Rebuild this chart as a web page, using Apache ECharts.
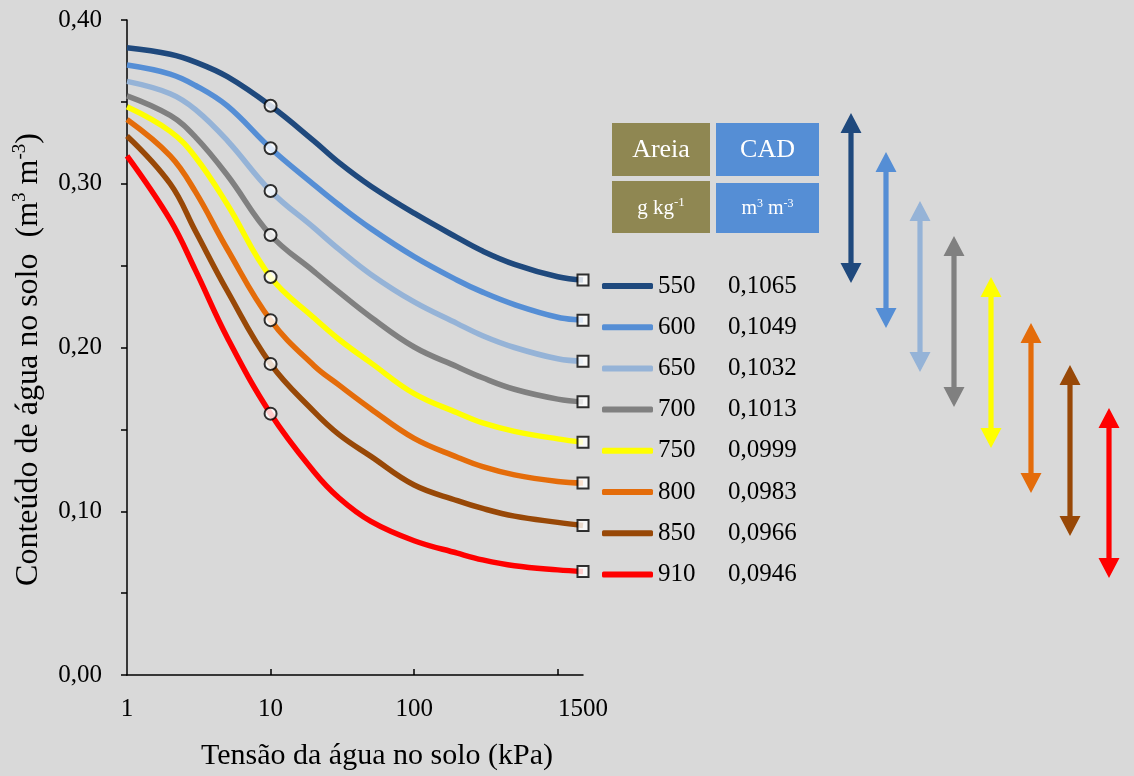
<!DOCTYPE html>
<html>
<head>
<meta charset="utf-8">
<script src="https://cdn.jsdelivr.net/npm/echarts@6/dist/echarts.min.js"></script>
<style>html,body{margin:0;padding:0;background:#d9d9d9}#c{width:1134px;height:776px}</style>
</head>
<body>
<div id="c"></div>
<script>
// ---- data ----
const tensao = [1, 2, 3, 5, 10, 20, 30, 50, 100, 200, 300, 500, 1000, 1500];
const areia = ['550', '600', '650', '700', '750', '800', '850', '910'];
const cad = ['0,1065', '0,1049', '0,1032', '0,1013', '0,0999', '0,0983', '0,0966', '0,0946'];
const theta550 = [0.3830, 0.3791, 0.3743, 0.3654, 0.3476, 0.3262, 0.3129, 0.2985, 0.2820, 0.2671, 0.2589, 0.2508, 0.2432, 0.2412];
const theta600 = [0.3725, 0.3670, 0.3600, 0.3475, 0.3217, 0.2995, 0.2870, 0.2726, 0.2555, 0.2411, 0.2338, 0.2262, 0.2185, 0.2167];
const theta650 = [0.3625, 0.3550, 0.3453, 0.3264, 0.2956, 0.2732, 0.2599, 0.2446, 0.2278, 0.2146, 0.2072, 0.2000, 0.1931, 0.1916];
const theta700 = [0.3537, 0.3417, 0.3285, 0.3052, 0.2687, 0.2465, 0.2338, 0.2185, 0.2003, 0.1882, 0.1815, 0.1745, 0.1685, 0.1668];
const theta750 = [0.3470, 0.3320, 0.3162, 0.2873, 0.2430, 0.2182, 0.2049, 0.1906, 0.1718, 0.1601, 0.1539, 0.1488, 0.1442, 0.1421];
const theta800 = [0.3392, 0.3170, 0.2950, 0.2600, 0.2167, 0.1890, 0.1770, 0.1625, 0.1445, 0.1330, 0.1272, 0.1222, 0.1182, 0.1172];
const theta850 = [0.3292, 0.3000, 0.2710, 0.2345, 0.1900, 0.1610, 0.1468, 0.1335, 0.1160, 0.1065, 0.1017, 0.0970, 0.0932, 0.0913];
const theta910 = [0.3170, 0.2779, 0.2471, 0.2060, 0.1596, 0.1243, 0.1081, 0.0938, 0.0820, 0.0744, 0.0703, 0.0667, 0.0642, 0.0632];
const xTickLabels = [1, 10, 100, 1500];
const yTickValues = [0, 0.1, 0.2, 0.3, 0.4];

// ---- styling ----
const curves = [theta550, theta600, theta650, theta700, theta750, theta800, theta850, theta910];
const colors = ['#1f497d', '#558ed5', '#95b3d7', '#808080', '#ffff00', '#e46c0a', '#984807', '#ff0000'];
const FONT = 'Liberation Serif';
const markAt = [10, 1500];

const chart = echarts.init(document.getElementById('c'), null, {renderer: 'canvas'});

const series = [];
curves.forEach((vals, i) => {
  series.push({
    name: areia[i], type: 'line', smooth: 0.4, showSymbol: false,
    symbol: 'none', color: colors[i],
    lineStyle: {width: 5.5, color: colors[i]},
    data: tensao.map((t, k) => [t, vals[k]]), z: 2
  });
});
series.push({
  name: 'pts10', type: 'scatter', symbol: 'circle', symbolSize: 12, z: 5,
  itemStyle: {color: '#ffffff', borderColor: '#000000', borderWidth: 2},
  data: curves.map(v => [markAt[0], v[tensao.indexOf(markAt[0])]])
});
series.push({
  name: 'pts1500', type: 'scatter', symbol: 'rect', symbolSize: 11, z: 5,
  itemStyle: {color: '#ffffff', borderColor: '#000000', borderWidth: 2},
  data: curves.map(v => [markAt[1], v[tensao.indexOf(markAt[1])]])
});

// double-headed arrows (layout constants)
const arrowPos = [[851, 113, 283], [886, 152, 328], [920, 201, 372], [954, 236, 407],
                  [991, 277, 448], [1031, 323, 493], [1070, 365, 536], [1109, 408, 578]];
function arrowPts(cx, t, b) {
  const hw = 10.5, hl = 20, sw = 2.6;
  return [[cx, t], [cx + hw, t + hl], [cx + sw, t + hl], [cx + sw, b - hl], [cx + hw, b - hl], [cx, b],
          [cx - hw, b - hl], [cx - sw, b - hl], [cx - sw, t + hl], [cx - hw, t + hl]];
}
const graphics = arrowPos.map((p, i) => ({
  type: 'polygon', shape: {points: arrowPts(p[0], p[1], p[2])}, style: {fill: colors[i]}, silent: true
}));
// header boxes
const boxes = [
  {x: 612, y: 123, w: 98, h: 53, fill: '#8f8752', text: '{t|Areia}', fs: 26},
  {x: 716, y: 123, w: 103, h: 53, fill: '#558ed5', text: '{t|CAD}', fs: 26},
  {x: 612, y: 181, w: 98, h: 52, fill: '#8f8752', text: '{t|g kg}{s|-1}', fs: 21},
  {x: 716, y: 183, w: 103, h: 50, fill: '#558ed5', text: '{t|m}{s|3}{t| m}{s|-3}', fs: 20}
];
boxes.forEach(b => {
  graphics.push({type: 'rect', shape: {x: b.x, y: b.y, width: b.w, height: b.h}, style: {fill: b.fill}, silent: true});
  graphics.push({
    type: 'text', x: b.x + b.w / 2, y: b.y + b.h / 2 + 1, silent: true,
    style: {
      text: b.text, align: 'center', verticalAlign: 'middle',
      rich: {
        t: {fontFamily: FONT, fontSize: b.fs, fill: '#ffffff', lineHeight: b.fs + 2},
        s: {fontFamily: FONT, fontSize: Math.round(b.fs * 0.6), fill: '#ffffff', verticalAlign: 'top', lineHeight: b.fs + 2}
      }
    }
  });
});

const option = {
  backgroundColor: '#d9d9d9',
  animation: false,
  grid: {left: 127, top: 20, width: 456, height: 656, containLabel: false},
  legend: {
    data: areia, orient: 'vertical', left: 602, top: 273, itemGap: 15.2, padding: 0,
    itemWidth: 51, itemHeight: 6, icon: 'roundRect',
    formatter: name => '{a|' + name + '}{b|' + cad[areia.indexOf(name)] + '}',
    textStyle: {
      fontFamily: FONT, fontSize: 25, color: '#000', lineHeight: 26,
      rich: {a: {width: 70, fontFamily: FONT, fontSize: 25, lineHeight: 26}, b: {fontFamily: FONT, fontSize: 25, lineHeight: 26}}
    },
    selectedMode: false
  },
  xAxis: {
    type: 'log', logBase: 10, min: 1, max: 1500,
    name: 'Tensão da água no solo (kPa)', nameLocation: 'middle', nameGap: 66,
    nameTextStyle: {fontFamily: FONT, fontSize: 30, color: '#000', padding: [0, 0, 0, 44]},
    axisLine: {show: true, lineStyle: {color: '#000', width: 1.5}},
    axisTick: {show: true, inside: true, length: 6, lineStyle: {color: '#000', width: 1.5}, customValues: [10, 100, 1000]},
    axisLabel: {fontFamily: FONT, fontSize: 25, color: '#000', margin: 22, customValues: xTickLabels,
      formatter: v => String(Math.round(v))},
    splitLine: {show: false}, minorTick: {show: false}
  },
  yAxis: {
    type: 'value', min: 0, max: 0.4, interval: 0.1,
    name: '{t|Conteúdo de água no solo  (m}{s|3}{t| m}{s|-3}{t|)}', nameLocation: 'middle', nameGap: 81, nameRotate: 90,
    nameTextStyle: {
      color: '#000', padding: [0, 24, 0, 0],
      rich: {
        t: {fontFamily: FONT, fontSize: 32, color: '#000', lineHeight: 35},
        s: {fontFamily: FONT, fontSize: 19, color: '#000', verticalAlign: 'top', lineHeight: 35}
      }
    },
    axisLine: {show: true, lineStyle: {color: '#000', width: 1.5}},
    axisTick: {show: true, inside: false, length: 6, lineStyle: {color: '#000', width: 1.5}},
    minorTick: {show: true, splitNumber: 2, length: 6, lineStyle: {color: '#000', width: 1.5}},
    axisLabel: {fontFamily: FONT, fontSize: 25, color: '#000', margin: 25,
      customValues: yTickValues, formatter: v => v.toFixed(2).replace('.', ',')},
    splitLine: {show: false}
  },
  graphic: graphics,
  series: series
};
chart.setOption(option);
</script>
</body>
</html>
